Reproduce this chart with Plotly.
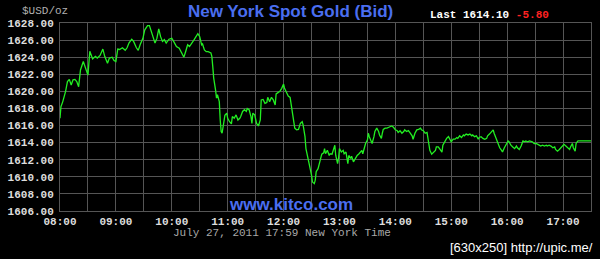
import plotly.graph_objects as go

DATE = "2011-07-27"

times = [
    "08:00","08:01","08:03","08:06","08:08","08:10","08:12","08:14","08:16","08:18",
    "08:20","08:22","08:25","08:27","08:30","08:32","08:33","08:35","08:38","08:40",
    "08:43","08:46","08:48","08:51","08:53","08:56","08:58","09:00","09:02","09:04",
    "09:07","09:10","09:12","09:14","09:17","09:19","09:22","09:24","09:26","09:29",
    "09:31","09:34","09:36","09:39","09:42","09:44","09:46","09:48","09:50","09:52",
    "09:54","09:57","10:00","10:02","10:05","10:08","10:10","10:13","10:15","10:17",
    "10:19","10:22",
    "10:24","10:26","10:28","10:30","10:32","10:33","10:35","10:37","10:39","10:42",
    "10:43","10:44","10:45","10:47","10:48","10:49","10:51","10:52","10:53","10:54",
    "10:55","10:57","10:59","11:00","11:02","11:04","11:05","11:07","11:09","11:11",
    "11:13","11:14","11:16","11:18","11:20","11:21","11:23","11:25","11:26","11:27",
    "11:29","11:31","11:33","11:35","11:36","11:38","11:40","11:42","11:43","11:45",
    "11:47","11:49","11:51","11:52","11:54","11:56","11:58","12:00","12:01","12:03",
    "12:05","12:07","12:08",
    "12:10","12:12","12:14","12:16","12:18","12:20","12:21","12:23","12:24","12:26",
    "12:28","12:30","12:31","12:33","12:34","12:35","12:37","12:38","12:40","12:41",
    "12:43","12:44","12:45","12:47","12:49","12:50","12:52","12:54","12:55","12:56",
    "12:58","12:59","13:00","13:02","13:04","13:05","13:07","13:09","13:10","13:12",
    "13:13","13:15","13:17","13:19","13:21","13:22","13:24","13:25","13:27","13:28",
    "13:30","13:31","13:32","13:34","13:35","13:37","13:38","13:40","13:42","13:43",
    "13:45","13:46","13:47","13:49","13:51","13:53","13:55","13:56","13:58","14:00",
    "14:02","14:03","14:05","14:07","14:09","14:10","14:12","14:14","14:16","14:18",
    "14:19","14:21","14:23","14:25","14:27","14:28","14:30","14:32","14:34","14:35",
    "14:37","14:39","14:41","14:43","14:44","14:46",
    "14:48","14:50","14:51","14:53","14:55","14:57","14:58","15:00","15:02","15:04",
    "15:06","15:07","15:09","15:11","15:13","15:14","15:16","15:18","15:20","15:22",
    "15:23","15:25","15:27","15:29","15:30","15:32","15:34","15:36","15:38","15:39",
    "15:41","15:43","15:45","15:46","15:48","15:50","15:52","15:54","15:55","15:57",
    "15:59","16:01","16:02","16:04","16:06","16:08","16:10","16:11","16:13","16:15",
    "16:17","16:19","16:20","16:22","16:24","16:26","16:27","16:29","16:31","16:33",
    "16:35","16:36","16:38","16:40","16:42","16:43","16:45","16:47","16:49","16:51",
    "16:52","16:54","16:56","16:58","16:59","17:01","17:03","17:05","17:07","17:08",
    "17:10","17:11","17:13","17:14","17:15","17:16","17:21","17:25","17:30",
]

bids = [
    1616.85,1618.2,1618.8,1620.0,1621.15,1621.4,1620.75,1621.35,1621.4,1621.15,
    1620.55,1622.5,1623.5,1622.9,1621.9,1624.7,1624.3,1623.8,1624.1,1623.9,
    1624.2,1624.95,1624.1,1623.3,1623.9,1624.0,1623.6,1623.5,1624.95,1624.9,
    1625.1,1624.8,1625.1,1625.65,1626.1,1625.85,1625.1,1624.8,1625.45,1626.2,
    1627.2,1627.7,1627.7,1626.8,1625.65,1626.2,1627.3,1626.4,1625.85,1626.05,
    1625.65,1626.1,1626.2,1625.85,1625.25,1625.05,1624.55,1624.0,1624.7,1625.45,
    1625.25,1625.65,
    1626.05,1626.4,1626.75,1626.4,1625.45,1625.55,1624.85,1624.65,1624.65,1624.5,
    1624.1,1622.9,1621.55,1620.15,1619.2,1619.6,1618.8,1616.65,1615.3,1615.1,
    1616.05,1617.2,1617.45,1616.85,1616.45,1616.2,1617.05,1616.85,1617.25,1616.65,
    1616.85,1617.05,1617.65,1617.85,1617.65,1618.0,1617.85,1617.05,1616.25,1617.45,
    1617.25,1616.25,1615.95,1616.65,1619.0,1619.05,1618.6,1618.7,1619.3,1618.8,
    1619.3,1619.0,1618.4,1619.7,1619.85,1620.0,1620.35,1620.85,1620.35,1619.8,
    1619.45,1619.3,1618.6,
    1616.65,1615.7,1615.5,1615.55,1616.25,1616.45,1616.05,1614.7,1613.3,1612.35,
    1611.15,1610.2,1609.4,1609.2,1609.6,1610.6,1610.95,1611.35,1612.15,1612.65,
    1612.8,1613.3,1612.7,1613.1,1612.5,1612.7,1612.65,1613.5,1613.7,1612.5,
    1611.55,1612.15,1613.3,1612.9,1613.1,1612.7,1612.9,1611.55,1612.5,1612.15,
    1612.4,1611.75,1612.15,1612.5,1612.7,1612.8,1613.1,1612.7,1613.5,1613.9,
    1614.3,1615.1,1614.7,1614.1,1613.9,1614.7,1615.3,1615.7,1615.3,1614.9,
    1614.5,1615.1,1615.55,1615.7,1615.7,1615.8,1615.9,1615.95,1615.8,1615.5,
    1615.4,1615.2,1615.4,1615.1,1615.3,1615.5,1615.3,1615.4,1615.1,1614.8,
    1614.4,1615.1,1615.5,1615.55,1615.7,1615.5,1615.4,1615.1,1615.2,1614.5,
    1613.1,1612.65,1612.9,1613.1,1613.5,1613.5,
    1613.2,1612.9,1613.7,1614.1,1614.5,1614.7,1614.5,1614.1,1614.4,1614.4,
    1614.6,1614.5,1614.8,1614.6,1614.9,1614.8,1615.0,1614.9,1615.0,1614.8,
    1614.9,1614.7,1614.8,1614.4,1614.6,1614.7,1614.5,1614.4,1614.5,1614.8,
    1615.0,1615.3,1615.5,1615.1,1614.5,1613.9,1613.4,1613.1,1612.9,1613.4,
    1613.9,1614.2,1614.1,1613.7,1613.5,1613.3,1613.6,1613.4,1613.2,1613.6,
    1614.2,1614.1,1614.2,1614.1,1614.2,1614.1,1614.1,1613.9,1613.9,1613.8,
    1613.7,1613.6,1613.7,1613.6,1613.7,1613.6,1613.7,1613.6,1613.4,1613.5,
    1613.2,1613.0,1613.2,1613.4,1613.6,1613.8,1613.6,1613.4,1613.2,1613.5,
    1613.9,1613.4,1613.0,1613.9,1614.0,1614.2,1614.2,1614.2,1614.2,
]

x_start, x_end = "08:00", "17:30"
y_min, y_max, y_step = 1606, 1628, 2

title_text = "New York Spot Gold (Bid)"
last_price = "1614.10"
change = "-5.80"
unit_text = "$USD/oz"
stamp_text = "July 27, 2011 17:59 New York Time"
site_text = "www.kitco.com"
credit_text = "[630x250] http://upic.me/"

xs = [f"{DATE} {t}" for t in times]

BLUE = "#4a6ef0"
GRID = "#555555"
MONO = "Liberation Mono"
SANS = "Liberation Sans"

fig = go.Figure()
fig.add_trace(go.Scatter(
    x=xs, y=bids, mode="lines",
    line=dict(color="#22ee22", width=1.3),
    hoverinfo="skip", showlegend=False,
))

fig.update_layout(
    width=600, height=259,
    margin=dict(l=58, r=8, t=23, b=48),
    paper_bgcolor="black", plot_bgcolor="black",
    xaxis=dict(
        type="date",
        range=[f"{DATE} {x_start}", f"{DATE} {x_end}"],
        dtick=3600000, tick0=f"{DATE} 08:00", tickformat="%H:%M",
        showgrid=True, gridcolor=GRID, gridwidth=1,
        minor=dict(dtick=1800000, tick0=f"{DATE} 08:00", showgrid=True,
                   gridcolor=GRID, gridwidth=1),
        showline=True, linecolor=GRID, mirror=True,
        ticks="",
        tickfont=dict(family=MONO, size=11, color="#dddddd", weight="bold"),
        zeroline=False, fixedrange=True,
    ),
    yaxis=dict(
        range=[y_min, y_max], dtick=y_step, tick0=y_min, tickformat=".2f",
        showgrid=True, gridcolor=GRID, gridwidth=1,
        showline=True, linecolor=GRID, mirror=True,
        ticks="outside", ticklen=3, tickcolor="rgba(0,0,0,0)",
        tickfont=dict(family=MONO, size=11, color="#dddddd", weight="bold"),
        zeroline=False, fixedrange=True,
    ),
)

def px_x(px):
    return (px - 58) / 534.0

def px_y(py):
    return (211 - py) / 188.0

annos = [
    dict(text=unit_text, x=px_x(18), y=px_y(11), xanchor="left", yanchor="middle",
         font=dict(family=MONO, size=11, color="#b0b0b0")),
    dict(text=f"<b>{title_text}</b>", x=px_x(290), y=px_y(11.5), xanchor="center", yanchor="middle",
         font=dict(family=SANS, size=17, color=BLUE)),
    dict(text=f"<b>Last {last_price} <span style='color:#ff2222'>{change}</span></b>",
         x=px_x(428), y=px_y(15.5), xanchor="left", yanchor="middle",
         font=dict(family=MONO, size=11, color="#ffffff")),
    dict(text=f"<b>{site_text}</b>", x=px_x(290), y=px_y(204), xanchor="center", yanchor="middle",
         font=dict(family=SANS, size=17, color=BLUE)),
    dict(text=stamp_text, x=px_x(281), y=px_y(232.5), xanchor="center", yanchor="middle",
         font=dict(family=MONO, size=11, color="#a8a8a8")),
    dict(text=credit_text, x=px_x(596), y=px_y(247), xanchor="right", yanchor="middle",
         font=dict(family=SANS, size=13, color="#ffffff")),
]
for a in annos:
    a.update(xref="paper", yref="paper", showarrow=False)
    fig.add_annotation(**a)

fig.write_html("out.html", config={"displayModeBar": False})
